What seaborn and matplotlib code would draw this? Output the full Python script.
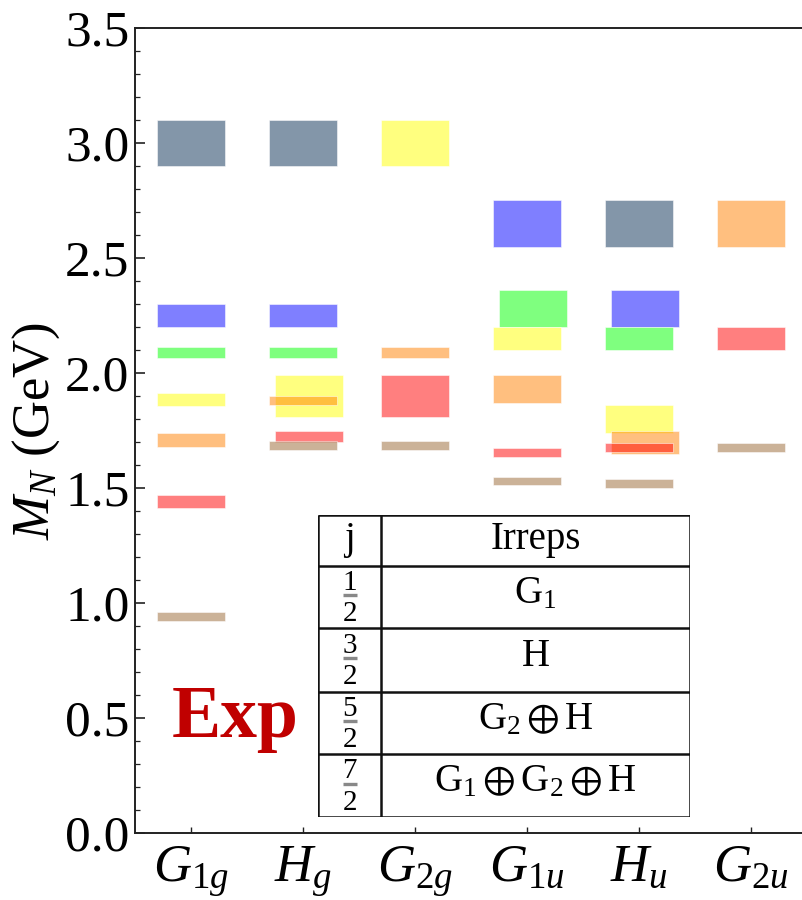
import matplotlib
matplotlib.use("Agg")
import matplotlib.pyplot as plt
import seaborn as sns
from matplotlib.ticker import MultipleLocator, FixedLocator, NullLocator

# ---- data -------------------------------------------------------------
channels = ["G1g", "Hg", "G2g", "G1u", "Hu", "G2u"]
channel_labels = [r"$G_{1g}$", r"$H_g$", r"$G_{2g}$", r"$G_{1u}$", r"$H_u$", r"$G_{2u}$"]

# one entry per mass band: channel, lower / upper edge (GeV), colour group
band_channel = [
    "G1g", "G1g", "G1g", "G1g", "G1g", "G1g", "G1g",
    "Hg", "Hg", "Hg", "Hg", "Hg", "Hg", "Hg",
    "G2g", "G2g", "G2g", "G2g",
    "G1u", "G1u", "G1u", "G1u", "G1u", "G1u",
    "Hu", "Hu", "Hu", "Hu", "Hu", "Hu", "Hu",
    "G2u", "G2u", "G2u",
]
band_low = [
    2.90, 2.20, 2.065, 1.855, 1.68, 1.415, 0.92,
    2.90, 2.20, 2.065, 1.81, 1.86, 1.70, 1.665,
    2.90, 2.065, 1.81, 1.665,
    2.55, 2.20, 2.10, 1.87, 1.635, 1.515,
    2.55, 2.20, 2.10, 1.74, 1.65, 1.655, 1.50,
    2.55, 2.10, 1.655,
]
band_high = [
    3.10, 2.30, 2.115, 1.915, 1.74, 1.47, 0.96,
    3.10, 2.30, 2.115, 1.99, 1.90, 1.75, 1.705,
    3.10, 2.115, 1.99, 1.705,
    2.75, 2.36, 2.20, 1.99, 1.675, 1.55,
    2.75, 2.36, 2.20, 1.86, 1.75, 1.695, 1.54,
    2.75, 2.20, 1.695,
]
band_group = [
    "slate", "blue", "green", "yellow", "orange", "red", "tan",
    "slate", "blue", "green", "yellow", "orange", "red", "tan",
    "yellow", "orange", "red", "tan",
    "blue", "green", "yellow", "orange", "red", "tan",
    "slate", "blue", "green", "yellow", "orange", "red", "tan",
    "orange", "red", "tan",
]

# table of continuum spins and the cubic irreps they subduce to
spin_num = ["1", "3", "5", "7"]
spin_den = ["2", "2", "2", "2"]
spin_irreps = [r"$\mathrm{G}_1$", r"$\mathrm{H}$", r"$\mathrm{G}_2\oplus\mathrm{H}$",
               r"$\mathrm{G}_1\oplus\mathrm{G}_2\oplus\mathrm{H}$"]

# ---- styling ----------------------------------------------------------
group_colours = {
    "slate": (0.03, 0.18, 0.33),
    "blue": (0.0, 0.0, 1.0),
    "green": (0.0, 1.0, 0.0),
    "yellow": (1.0, 1.0, 0.0),
    "orange": (1.0, 0.5, 0.0),
    "red": (1.0, 0.0, 0.0),
    "tan": (0.6, 0.4, 0.2),
}
# bands nudged sideways so that overlapping levels stay visible
nudged = {("Hg", "yellow"), ("Hg", "red"), ("G1u", "green"),
          ("Hu", "blue"), ("Hu", "orange")}
NUDGE = 0.055
BAR_W = 0.61

sns.set_theme(style="white")
plt.rcParams["font.family"] = ["Liberation Serif", "DejaVu Serif"]
plt.rcParams["text.color"] = "black"
plt.rcParams["axes.labelcolor"] = "black"
plt.rcParams["xtick.color"] = "black"
plt.rcParams["ytick.color"] = "black"
plt.rcParams["mathtext.fontset"] = "custom"
plt.rcParams["mathtext.rm"] = "Liberation Serif"
plt.rcParams["mathtext.it"] = "Liberation Serif:italic"
plt.rcParams["mathtext.bf"] = "Liberation Serif:bold"
plt.rcParams["mathtext.fallback"] = "stix"

fig = plt.figure(figsize=(8.02, 9.0), dpi=100)
W, H = 802.0, 900.0
ax = fig.add_axes([135 / W, 1 - 833 / H, (807 - 135) / W, (833 - 28) / H])

pos = {c: i + 1 for i, c in enumerate(channels)}
for ch, lo, hi, grp in zip(band_channel, band_low, band_high, band_group):
    x = pos[ch] + (NUDGE if (ch, grp) in nudged else 0.0)
    sns.barplot(x=[x], y=[hi - lo], bottom=lo, orient="x", native_scale=True,
                width=BAR_W, color=group_colours[grp], saturation=1, alpha=0.5,
                edgecolor="white", linewidth=0.7, errorbar=None, ax=ax)

ax.set_xlim(0.5, 6.5)
ax.set_ylim(0.0, 3.5)
ax.xaxis.set_major_locator(FixedLocator(list(range(1, 7))))
ax.set_xticklabels(channel_labels)
ax.xaxis.set_minor_locator(NullLocator())
ax.yaxis.set_major_locator(MultipleLocator(0.5))
ax.yaxis.set_minor_locator(MultipleLocator(0.1))
ax.yaxis.set_major_formatter(matplotlib.ticker.FormatStrFormatter("%.1f"))

ax.tick_params(axis="y", which="major", direction="in", length=7, width=1.2,
               color="#222222", labelcolor="black", labelsize=37, pad=4,
               left=True, right=False)
ax.tick_params(axis="y", which="minor", direction="in", length=3.5, width=0.9,
               color="#222222", left=True, right=False)
ax.tick_params(axis="x", which="major", direction="in", length=4, width=1.0,
               color="#222222", labelcolor="black", labelsize=38, pad=8,
               bottom=True, top=False)
for side in ("left", "top", "bottom"):
    ax.spines[side].set_color("#222222")
    ax.spines[side].set_linewidth(1.4)
ax.spines["right"].set_visible(False)
ax.set_xlabel("")
ax.set_ylabel(r"$M_N$ (GeV)", fontsize=38, labelpad=2, color="black")

ax.text(0.83, 0.417, "Exp", fontsize=53, fontweight="bold", color="#C00000",
        ha="left", va="baseline")

# ---- inset table ------------------------------------------------------
tx0, tx1, ty0, ty1 = 318, 690, 515, 817
tab = fig.add_axes([tx0 / W, 1 - ty1 / H, (tx1 - tx0) / W, (ty1 - ty0) / H], zorder=5)
tab.set_xlim(0, tx1 - tx0)
tab.set_ylim(ty1 - ty0, 0)
tab.set_facecolor("white")
tab.axis("off")
tab.patch.set_visible(True)

row_edges = [0, 50.7, 113, 176.7, 239, 302]
col_div = 63
lw = 1.8
tab.hlines(row_edges, 0, tx1 - tx0, color="#111111", lw=lw)
tab.vlines([0, col_div, tx1 - tx0], 0, 302, color="#111111", lw=lw)

jc = col_div / 2
ic = (col_div + tx1 - tx0) / 2
hc = (row_edges[0] + row_edges[1]) / 2
tab.text(jc, hc + 9, "j", fontsize=28, ha="center", va="baseline")
tab.text(ic, hc + 9, "Irreps", fontsize=28, ha="center", va="baseline")
for k in range(4):
    rc = (row_edges[k + 1] + row_edges[k + 2]) / 2
    # stacked fraction: numerator, rule, denominator
    tab.text(jc, rc - 7, spin_num[k], fontsize=21, ha="center", va="baseline")
    tab.hlines(rc - 2, jc - 7, jc + 7, color="#888888", lw=2.4)
    tab.text(jc, rc + 24, spin_den[k], fontsize=21, ha="center", va="baseline")
    tab.text(ic, rc + 6, spin_irreps[k], fontsize=28, ha="center", va="baseline")

fig.savefig("out.png", dpi=100)
